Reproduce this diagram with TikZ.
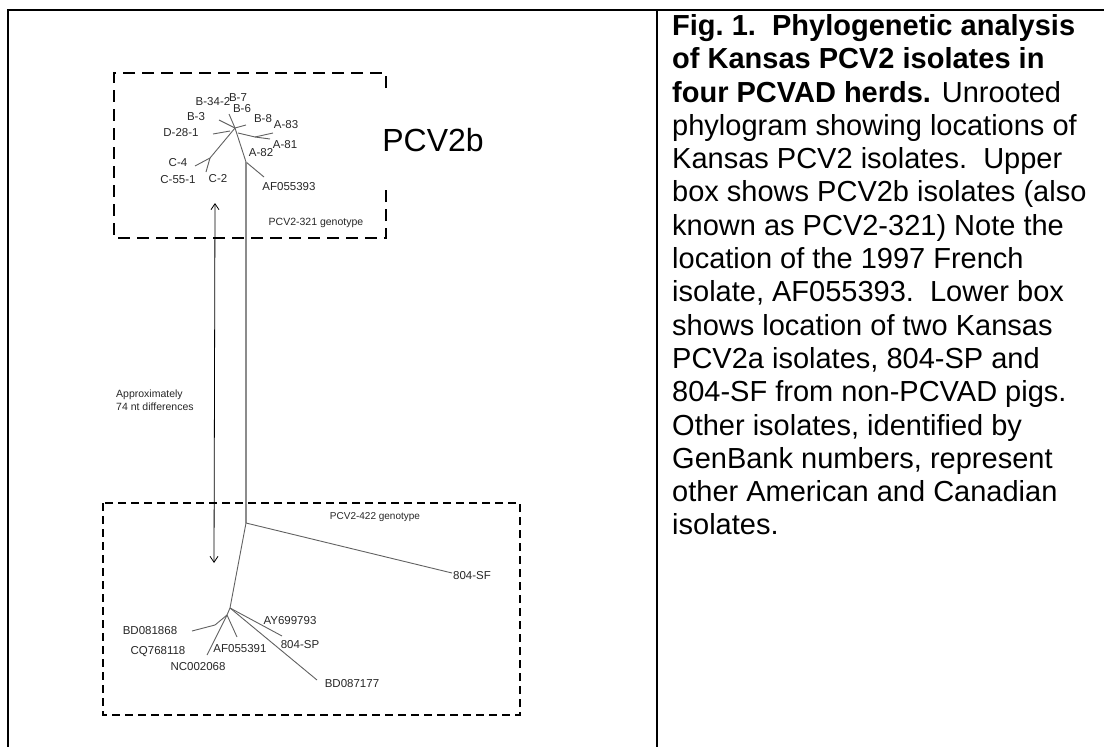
\documentclass[tikz,border=0pt]{standalone}
\usepackage{fontspec}
\setmainfont{Liberation Sans}
\usetikzlibrary{arrows.meta}
\begin{document}
\begin{tikzpicture}[x=1pt,y=-1pt,
  tbl/.style={line width=2.6pt,black},
  boxA/.style={line width=2pt,dash pattern=on 12pt off 7pt},
  boxB/.style={line width=2pt,dash pattern=on 8pt off 5pt},
  br/.style={draw=black!62,line width=0.9pt},
  trunk/.style={draw=black!45,line width=1.4pt},
  lbl/.style={font=\fontsize{11.5}{13}\selectfont,text=black!85,inner sep=0pt},
  captext/.style={font=\fontsize{29}{33.3}\selectfont,align=left,inner sep=0pt,anchor=north west}]
\useasboundingbox (0,0) rectangle (1104,747);
% table frame
\coordinate (tl) at (8,10);
\coordinate (tr) at (1104,10);
\coordinate (bl) at (8,747);
\coordinate (mt) at (657,10);
\coordinate (mb) at (657,747);
\draw[tbl] (bl) -- (tl) -- (tr);
\draw[tbl] (mt) -- (mb);
% caption
\node[captext] (caption) at (672,14.2) {\textbf{Fig.~1.\ \ Phylogenetic analysis}\\
\textbf{of Kansas PCV2 isolates in}\\
\textbf{four PCVAD herds.} Unrooted\\
phylogram showing locations of\\
Kansas PCV2 isolates.\ \ Upper\\
box shows PCV2b isolates (also\\
known as PCV2-321) Note the\\
location of the 1997 French\\
isolate, AF055393.\ \ Lower box\\
shows location of two Kansas\\
PCV2a isolates, 804-SP and\\
804-SF from non-PCVAD pigs.\\
Other isolates, identified by\\
GenBank numbers, represent\\
other American and Canadian\\
isolates.};
% upper dashed box
\coordinate (ua) at (386,88);
\coordinate (ub) at (386,73);
\coordinate (uc) at (114,73);
\coordinate (ud) at (114,238);
\coordinate (ue) at (386,238);
\coordinate (uf) at (386,185);
\draw[boxA] (ua) -- (ub) -- (uc) -- (ud) -- (ue) -- (uf);
\node[font=\fontsize{32}{36}\selectfont,inner sep=0pt] (pcv2b) at (433,140) {PCV2b};
% lower dashed box
\coordinate (la) at (103,503);
\coordinate (lb) at (520,715);
\draw[boxB] (la) rectangle (lb);
% upper tree
\coordinate (hub) at (235,128);
\coordinate (e7) at (229,114);
\coordinate (e34) at (219,120);
\coordinate (e6) at (246,125);
\coordinate (d0) at (230,131);
\coordinate (d28) at (213,134);
\coordinate (cA) at (210,158);
\coordinate (c4) at (195,166);
\coordinate (c55) at (206,172);
\coordinate (aj) at (238,133);
\coordinate (a8) at (255,137);
\coordinate (a83) at (273,133);
\coordinate (a81) at (270,139);
\coordinate (m) at (246,162);
\coordinate (af) at (264,177);
\draw[br] (hub) -- (e7);
\draw[br] (hub) -- (e34);
\draw[br] (hub) -- (e6);
\draw[br] (d0) -- (d28);
\draw[br] (hub) -- (cA) -- (c4);
\draw[br] (cA) -- (c55);
\draw[br] (aj) -- (a8) -- (a83);
\draw[br] (a8) -- (a81);
\draw[br] (hub) -- (m) -- (af);
% trunk
\coordinate (r) at (246,523);
\draw[trunk] (m) -- (r);
% lower tree
\coordinate (sf) at (452,573);
\coordinate (lh) at (230,608);
\coordinate (lh2) at (227,615);
\coordinate (ay) at (282,636);
\coordinate (bd87) at (317,680);
\coordinate (af91) at (237,637);
\coordinate (nc) at (207,655);
\coordinate (bj) at (215,625);
\coordinate (bd81) at (192,631);
\draw[br] (r) -- (sf);
\draw[br] (r) -- (lh);
\draw[br] (lh) -- (ay);
\draw[br] (lh) -- (bd87);
\draw[br] (lh) -- (lh2) -- (af91);
\draw[br] (lh2) -- (nc);
\draw[br] (lh2) -- (bj) -- (bd81);
% labels upper
\node[lbl] (B342) at (213,102) {B-34-2};
\node[lbl] (B7) at (238,98) {B-7};
\node[lbl] (B6) at (242,109) {B-6};
\node[lbl] (B3) at (196,117) {B-3};
\node[lbl] (B8) at (263,119) {B-8};
\node[lbl] (A83) at (286,125) {A-83};
\node[lbl] (D281) at (181,133) {D-28-1};
\node[lbl] (A81) at (285,145) {A-81};
\node[lbl] (A82) at (261,153) {A-82};
\node[lbl] (C4) at (178,163) {C-4};
\node[lbl] (C551) at (178,180) {C-55-1};
\node[lbl] (C2) at (218,179) {C-2};
\node[lbl] (AF393) at (289,187) {AF055393};
\node[lbl,font=\fontsize{10.5}{12}\selectfont] (g321) at (316,223) {PCV2-321 genotype};
% labels lower
\node[lbl,font=\fontsize{10}{12}\selectfont] (g422) at (375,517) {PCV2-422 genotype};
\node[lbl] (SF) at (472,576) {804-SF};
\node[lbl] (BD81) at (150,631) {BD081868};
\node[lbl] (CQ) at (158,652) {CQ768118};
\node[lbl] (NC) at (198,667) {NC002068};
\node[lbl] (AF391) at (240,649) {AF055391};
\node[lbl] (AY) at (290,621) {AY699793};
\node[lbl] (SP) at (300,645) {804-SP};
\node[lbl] (BD87) at (352,684) {BD087177};
% arrow
\coordinate (at) at (215,203);
\coordinate (ab) at (214,563);
\draw[black,line width=0.8pt,{Straight Barb[length=6pt,width=8pt]}-{Straight Barb[length=6pt,width=8pt]}] (at) -- (ab);
\node[lbl,font=\fontsize{10.5}{12.8}\selectfont,align=left,anchor=west] (approx) at (116,400) {Approximately\\74 nt differences};
\end{tikzpicture}
\end{document}
